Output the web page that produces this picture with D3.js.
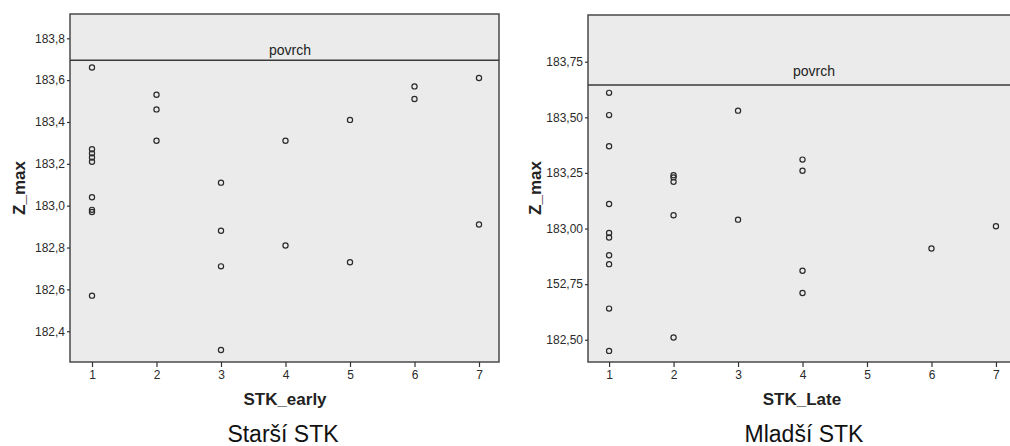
<!DOCTYPE html>
<html>
<head>
<meta charset="utf-8">
<script src="https://cdn.jsdelivr.net/npm/d3@7"></script>
<style>
  body { margin: 0; background: #fff; }
  text { font-family: "Liberation Sans", Arial, sans-serif; }
</style>
</head>
<body>
<svg id="chart" width="1010" height="446"></svg>
<script>
// Starší STK (STK_early)
const earlyX = [1, 1, 1, 1, 1, 1, 1, 1, 1,
                2, 2, 2,
                3, 3, 3, 3,
                4, 4,
                5, 5,
                6, 6,
                7, 7];
const earlyZ = [183.66, 183.27, 183.25, 183.23, 183.21, 183.04, 182.98, 182.97, 182.57,
                183.53, 183.46, 183.31,
                183.11, 182.88, 182.71, 182.31,
                183.31, 182.81,
                183.41, 182.73,
                183.57, 183.51,
                183.61, 182.91];
const earlySurface = 183.695;
const earlyTicks = [182.4, 182.6, 182.8, 183.0, 183.2, 183.4, 183.6, 183.8];
const earlyTickLabels = ["182,4", "182,6", "182,8", "183,0", "183,2", "183,4", "183,6", "183,8"];

// Mladší STK (STK_Late)
const lateX = [1, 1, 1, 1, 1, 1, 1, 1, 1, 1,
               2, 2, 2, 2, 2,
               3, 3,
               4, 4, 4, 4,
               6,
               7];
const lateZ = [183.61, 183.51, 183.37, 183.11, 182.98, 182.96, 182.88, 182.84, 182.64, 182.45,
               183.24, 183.23, 183.21, 183.06, 182.51,
               183.53, 183.04,
               183.31, 183.26, 182.81, 182.71,
               182.91,
               183.01];
const lateSurface = 183.645;
const lateTicks = [182.5, 182.75, 183.0, 183.25, 183.5, 183.75];
const lateTickLabels = ["182,50", "152,75", "183,00", "183,25", "183,50", "183,75"];

const xTicks = [1, 2, 3, 4, 5, 6, 7];

const svg = d3.select("#chart");

function drawPanel(cfg) {
    const xScale = d3.scaleLinear().domain(cfg.xDomain).range([cfg.left, cfg.right]);
    const yScale = d3.scaleLinear().domain(cfg.yDomain).range([cfg.bottom, cfg.top]);
    const g = svg.append("g");

    g.append("rect")
        .attr("x", cfg.left).attr("y", cfg.top)
        .attr("width", cfg.right - cfg.left)
        .attr("height", cfg.bottom - cfg.top)
        .attr("fill", "#ebebeb")
        .attr("stroke", "#4a4a4a")
        .attr("stroke-width", 1.5);

    // surface reference line
    g.append("line")
        .attr("x1", cfg.left).attr("x2", cfg.right)
        .attr("y1", yScale(cfg.surface)).attr("y2", yScale(cfg.surface))
        .attr("stroke", "#3a3a3a").attr("stroke-width", 1.5);

    g.append("text")
        .attr("x", cfg.surfaceLabelX)
        .attr("y", yScale(cfg.surface) - cfg.surfaceLabelGap)
        .attr("text-anchor", "middle")
        .attr("font-size", "14px")
        .attr("fill", "#222")
        .text("povrch");

    const yAxis = d3.axisLeft(yScale)
        .tickValues(cfg.yTicks)
        .tickFormat(function(d, i) { return cfg.yTickLabels[i]; })
        .tickSize(3).tickPadding(2);
    const ya = g.append("g")
        .attr("transform", "translate(" + cfg.left + ",0)")
        .call(yAxis);
    ya.select(".domain").remove();

    const xAxis = d3.axisBottom(xScale)
        .tickValues(xTicks)
        .tickFormat(d3.format("d"))
        .tickSize(5).tickPadding(3);
    const xa = g.append("g")
        .attr("transform", "translate(0," + cfg.bottom + ")")
        .call(xAxis);
    xa.select(".domain").remove();

    [ya, xa].forEach(function(a) {
        a.selectAll("line").attr("stroke", "#333").attr("stroke-width", 1.2);
        a.selectAll("text")
            .attr("fill", "#2a2a2a")
            .style("font-size", "12px")
            .style("font-family", "'Liberation Sans', Arial, sans-serif");
    });

    g.selectAll(".pt")
        .data(cfg.xs)
        .enter().append("circle")
        .attr("class", "pt")
        .attr("cx", function(d) { return xScale(d); })
        .attr("cy", function(d, i) { return yScale(cfg.zs[i]); })
        .attr("r", 2.6)
        .attr("fill", "none")
        .attr("stroke", "#2a2a2a")
        .attr("stroke-width", 1.2);

    g.append("text")
        .attr("transform", "translate(" + cfg.yTitleX + "," + cfg.yTitleY + ") rotate(-90)")
        .attr("text-anchor", "middle")
        .attr("font-size", "17px")
        .attr("font-weight", "bold")
        .attr("fill", "#222")
        .text("Z_max");

    g.append("text")
        .attr("x", cfg.xTitleX).attr("y", 405)
        .attr("text-anchor", "middle")
        .attr("font-size", "17px")
        .attr("font-weight", "bold")
        .attr("fill", "#222")
        .text(cfg.xTitle);

    g.append("text")
        .attr("x", cfg.captionX).attr("y", 442)
        .attr("text-anchor", "middle")
        .attr("font-size", "23px")
        .attr("fill", "#111")
        .text(cfg.caption);
}

drawPanel({
    left: 70, right: 499, top: 14, bottom: 362,
    xDomain: [0.659, 7.31], yDomain: [182.253, 183.916],
    xs: earlyX, zs: earlyZ, surface: earlySurface,
    yTicks: earlyTicks, yTickLabels: earlyTickLabels,
    surfaceLabelX: 290, surfaceLabelGap: 5,
    yTitleX: 25, yTitleY: 188,
    xTitle: "STK_early", xTitleX: 285,
    caption: "Starší STK", captionX: 283
});

drawPanel({
    left: 588, right: 1016, top: 15, bottom: 362,
    xDomain: [0.673, 7.311], yDomain: [182.40, 183.96],
    xs: lateX, zs: lateZ, surface: lateSurface,
    yTicks: lateTicks, yTickLabels: lateTickLabels,
    surfaceLabelX: 814, surfaceLabelGap: 9,
    yTitleX: 541, yTitleY: 188,
    xTitle: "STK_Late", xTitleX: 802,
    caption: "Mladší STK", captionX: 804
});
</script>
</body>
</html>
